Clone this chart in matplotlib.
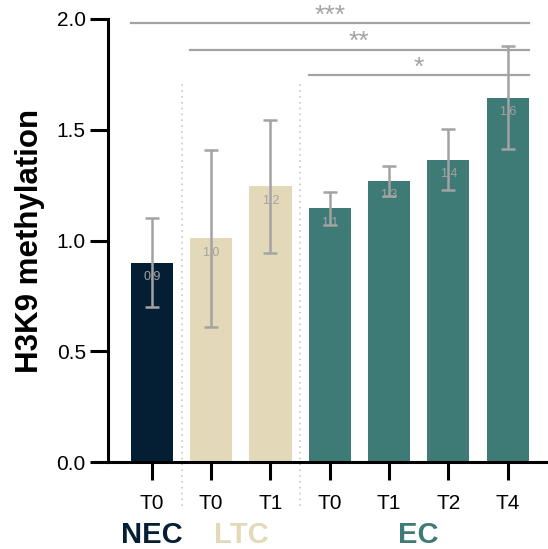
import matplotlib.pyplot as plt
import matplotlib.transforms as mtransforms
import numpy as np

plt.rcParams["font.family"] = ["Liberation Sans", "DejaVu Sans"]

# Data
tick_labels = ["T0", "T0", "T1", "T0", "T1", "T2", "T4"]
groups = ["NEC", "LTC", "LTC", "EC", "EC", "EC", "EC"]
means = [0.90, 1.01, 1.245, 1.145, 1.27, 1.365, 1.645]
errors = [0.20, 0.40, 0.30, 0.075, 0.068, 0.138, 0.232]
value_labels = ["0.9", "1.0", "1.2", "1.1", "1.3", "1.4", "1.6"]

group_names = ["NEC", "LTC", "EC"]
group_colors = {"NEC": "#041e34", "LTC": "#e3d9b8", "EC": "#3e7a76"}

# significance brackets: (first bar, last bar, height, stars)
sig = [(0, 6, 1.982, "***"), (1, 6, 1.862, "**"), (3, 6, 1.745, "*")]

grey = "#a3a3a3"

fig = plt.figure(figsize=(5.48, 5.49), dpi=100)
ax = fig.add_axes([108 / 548, 87 / 549, 440 / 548, 443 / 549])

x = np.arange(len(means))
width = 0.71
colors = [group_colors[g] for g in groups]
ax.bar(x, means, width=width, color=colors, edgecolor="none", zorder=2)
ax.errorbar(x, means, yerr=errors, fmt="none", ecolor=grey, elinewidth=1.8,
            capsize=5, capthick=1.8, zorder=3)

for xi, m, lab in zip(x, means, value_labels):
    ax.text(xi, m - 0.065, lab, ha="center", va="center", fontsize=9,
            color=grey, zorder=4)

# group separators
for sep in [0.5, 2.5]:
    ax.plot([sep, sep], [-0.2, 1.72], ls=(0, (1, 2.5)), color="#c8c8c8",
            lw=1.2, clip_on=False, zorder=1)

# significance lines
for i0, i1, h, stars in sig:
    x0 = i0 - width / 2
    x1 = i1 + width / 2
    ax.plot([x0, x1], [h, h], color=grey, lw=1.6, clip_on=False, zorder=3)
    ax.text((x0 + x1) / 2, h - 0.02, stars, ha="center", va="bottom",
            fontsize=19, color=grey)

ax.set_xlim(-0.74, 6.68)
ax.set_ylim(0, 2.0)
ax.set_yticks([0.0, 0.5, 1.0, 1.5, 2.0])
ax.set_yticklabels(["0.0", "0.5", "1.0", "1.5", "2.0"])
ax.set_xticks(x)
ax.set_xticklabels(tick_labels)
ax.tick_params(axis="both", length=13, width=2.2, labelsize=15, pad=3)
ax.tick_params(axis="x", pad=10)
for s in ["top", "right"]:
    ax.spines[s].set_visible(False)
for s in ["left", "bottom"]:
    ax.spines[s].set_linewidth(2.2)

ax.set_ylabel("H3K9 methylation", fontsize=22.5, fontweight="bold", labelpad=8)

trans = mtransforms.blended_transform_factory(ax.transData, ax.transAxes)
for name in group_names:
    idx = [i for i, g in enumerate(groups) if g == name]
    ax.text(np.mean(idx), -0.165, name, transform=trans, ha="center",
            va="center", fontsize=21, fontweight="bold",
            color=group_colors[name])

fig.savefig("out.png", dpi=100)
